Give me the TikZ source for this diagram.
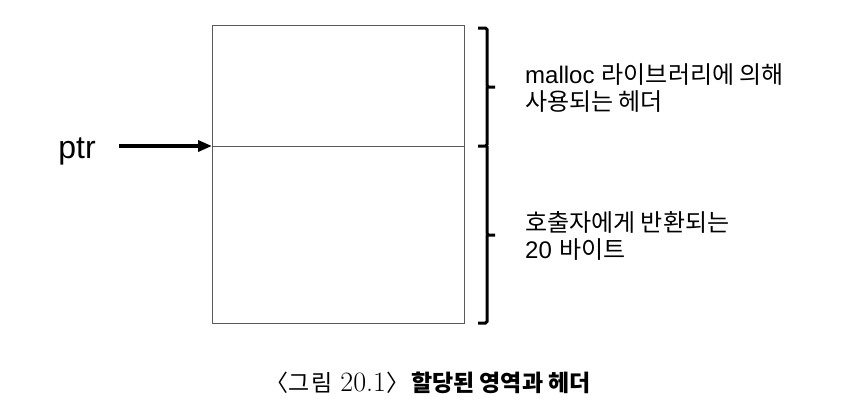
\documentclass[tikz,border=0pt]{standalone}
\usepackage{fontspec}
\usetikzlibrary{arrows.meta}
\newfontfamily\latf{Liberation Sans}
\newfontfamily\krf{Noto Sans CJK KR}
\definecolor{boxgray}{HTML}{5A5A5A}
\tikzset{
  region/.style={draw=boxgray, line width=1.4bp, anchor=north west, minimum width=252bp, inner sep=0pt},
  ptrarrow/.style={line width=3.4bp, -{Triangle[length=14bp,width=11bp]}},
  bracket/.style={line width=3bp, rounded corners=1.5bp, line cap=butt},
  label/.style={anchor=west, align=left, inner sep=0pt, font=\fontsize{24bp}{27bp}\selectfont},
  caption/.style={inner sep=0pt, font=\fontsize{23bp}{26bp}\selectfont}
}
\begin{document}
\begin{tikzpicture}[x=1bp,y=-1bp]
\useasboundingbox (0,0) rectangle (854,416);
% memory regions
\node[region, minimum height=121bp] (hdr) at (212,25) {};
\node[region, minimum height=177bp] (body) at (212,146) {};
% pointer
\node[anchor=base east, inner sep=0pt, font=\fontsize{32bp}{36bp}\selectfont\latf] (ptr) at (96,158) {ptr};
\coordinate (pstart) at (119,146);
\draw[ptrarrow] (pstart) -- (body.north west);
% braces
\draw[bracket] (478,28) -- (487,28) -- (487,87) -- (495,87);
\draw[bracket] (487,87) -- (487,146) -- (478,146);
\draw[bracket] (487,146) -- (487,235) -- (495,235);
\draw[bracket] (487,235) -- (487,323) -- (478,323);
% labels
\node[label] (lhdr) at (525,88) {{\latf malloc} {\krf 라이브러리에 의해}\\{\krf 사용되는 헤더}};
\node[label] (lbody) at (525,236) {{\krf 호출자에게 반환되는}\\{\latf 20} {\krf 바이트}};
% caption
\node[caption] (cap) at (428,383) {{\krf 〈}{\krf 그\hspace{2bp}림}\hspace{8bp}{\fontsize{28bp}{30bp}\selectfont 20.1}{\krf 〉}\hspace{2bp}{\krf\bfseries 할당된 영역과 헤더}};
\end{tikzpicture}
\end{document}
